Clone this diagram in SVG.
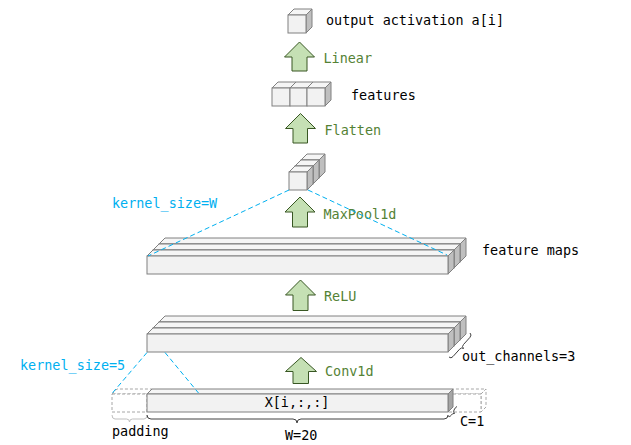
<svg xmlns="http://www.w3.org/2000/svg" width="631" height="445" viewBox="0 0 631 445">
<style>
text{font-family:"DejaVu Sans Mono","Liberation Mono",monospace;font-size:13.45px}
.lbl{fill:#000}
.op{fill:#548235}
.ks{fill:#00b0f0}
.f{fill:#f2f2f2;stroke:#808080;stroke-width:1}
.t{fill:#f5f5f5;stroke:#808080;stroke-width:1}
.s{fill:#bfbfbf;stroke:#808080;stroke-width:1}
.s2{fill:#a6a6a6;stroke:#808080;stroke-width:1}
.dsh{fill:#fff;stroke:#a6a6a6;stroke-width:1;stroke-dasharray:3 2}
.arr{fill:#c5e0b4;stroke:#385723;stroke-width:1}
.kl{fill:none;stroke:#00b0f0;stroke-width:1;stroke-dasharray:5 3}
.br{fill:none;stroke:#404040;stroke-width:1}
.brl{fill:none;stroke:#bfbfbf;stroke-width:1}
</style>

<g id="output-cube">
<polygon class="t" points="288,15 294,9 312,9 306,15"/>
<polygon class="s" points="306,15 312,9 312,27 306,33"/>
<rect class="f" x="288" y="15" width="18" height="18"/>
<text class="lbl" x="326" y="25">output activation a[i]</text>
</g>

<g id="features">
<polygon class="t" points="272,88 278,82 296,82 290,88"/>
<polygon class="s" points="290,88 296,82 296,100 290,106"/>
<rect class="f" x="272" y="88" width="18" height="18"/>
<polygon class="t" points="290,88 296,82 313,82 307,88"/>
<polygon class="s" points="307,88 313,82 313,100 307,106"/>
<rect class="f" x="290" y="88" width="17" height="18"/>
<polygon class="t" points="307,88 313,82 331,82 325,88"/>
<polygon class="s" points="325,88 331,82 331,100 325,106"/>
<rect class="f" x="307" y="88" width="18" height="18"/>
<text class="lbl" x="351" y="100">features</text>
</g>

<g id="pooled">
<polygon class="t" points="301,160 307,154 325,154 319,160"/>
<polygon class="s" points="319,160 325,154 325,172 319,178"/>
<rect class="f" x="301" y="160" width="18" height="18"/>
<polygon class="t" points="295,166 301,160 319,160 313,166"/>
<polygon class="s" points="313,166 319,160 319,178 313,184"/>
<rect class="f" x="295" y="166" width="18" height="18"/>
<polygon class="t" points="289,172 295,166 313,166 307,172"/>
<polygon class="s" points="307,172 313,166 313,184 307,190"/>
<rect class="f" x="289" y="172" width="18" height="18"/>
</g>

<g id="feature-maps">
<polygon class="t" points="159,244 165,238 466,238 460,244"/>
<polygon class="s" points="460,244 466,238 466,256 460,262"/>
<rect class="f" x="159" y="244" width="301" height="18"/>
<polygon class="t" points="153,250 159,244 460,244 454,250"/>
<polygon class="s" points="454,250 460,244 460,262 454,268"/>
<rect class="f" x="153" y="250" width="301" height="18"/>
<polygon class="t" points="147,256 153,250 454,250 448,256"/>
<polygon class="s" points="448,256 454,250 454,268 448,274"/>
<rect class="f" x="147" y="256" width="301" height="18"/>
<text class="lbl" x="482" y="255">feature maps</text>
</g>

<g id="conv-out">
<polygon class="t" points="159,322 165,316 466,316 460,322"/>
<polygon class="s" points="460,322 466,316 466,334 460,340"/>
<rect class="f" x="159" y="322" width="301" height="18"/>
<polygon class="t" points="153,328 159,322 460,322 454,328"/>
<polygon class="s" points="454,328 460,322 460,340 454,346"/>
<rect class="f" x="153" y="328" width="301" height="18"/>
<polygon class="t" points="147,334 153,328 454,328 448,334"/>
<polygon class="s" points="448,334 454,328 454,346 448,352"/>
<rect class="f" x="147" y="334" width="301" height="18"/>
<path class="br" d="M449,357 Q451,359 453,356.5 L459.5,349.3 Q461.5,347 463.5,348.5 Q461.5,346.5 463.5,344.5 L470,337.3 Q472,335 470,333"/>
<text class="lbl" x="462" y="361">out_channels=3</text>
</g>

<g id="padding">
<polygon class="dsh" points="112,394 117,389 152,389 147,394"/>
<rect class="dsh" x="112" y="394" width="35" height="18"/>
<polygon class="dsh" points="448,394 453,389 486,389 481,394"/>
<polygon class="dsh" points="481,394 486,389 486,407 481,412"/>
<rect class="dsh" x="448" y="394" width="33" height="18"/>
<path class="brl" d="M112,415 Q112,419 115,419 L126.5,419 Q129.5,419 129.5,422 Q129.5,419 132.5,419 L144,419 Q147,419 147,415"/>
<text class="lbl" x="112" y="436">padding</text>
</g>

<g id="input">
<polygon class="t" points="147,394 152,389 453,389 448,394"/>
<polygon class="s2" points="448,394 453,389 453,407 448,412"/>
<rect class="f" x="147" y="394" width="301" height="18"/>
<text class="lbl" x="297" y="406.5" text-anchor="middle">X[i,:,:]</text>
<path class="br" d="M147,415 Q147,419 151,419 L293,419 Q297,419 297,423 Q297,419 301,419 L444,419 Q448,419 448,415"/>
<text class="lbl" x="285" y="440">W=20</text>
<path class="br" d="M448,416 Q450,417.5 451.5,415 Q452.5,413 454.5,413.5 Q453,412 454,410 Q455.5,407 457,406.5"/>
<text class="lbl" x="460" y="426">C=1</text>
</g>

<g id="connectors">
<path class="arr" d="M299.5,42 L314.5,57 L307,57 L307,71 L292,71 L292,57 L284.5,57 Z"/>
<text class="op" x="323.5" y="63">Linear</text>
<path class="arr" d="M300.5,113.5 L315.5,128.5 L307.5,128.5 L307.5,143 L293,143 L293,128.5 L285.5,128.5 Z"/>
<text class="op" x="324.5" y="134.5">Flatten</text>
<path class="arr" d="M300,197 L315,212 L307.5,212 L307.5,227 L292.5,227 L292.5,212 L285,212 Z"/>
<text class="op" x="323.5" y="218.5">MaxPool1d</text>
<path class="arr" d="M300.5,280 L315.5,295 L308,295 L308,310.5 L293,310.5 L293,295 L285.5,295 Z"/>
<text class="op" x="324" y="301">ReLU</text>
<path class="arr" d="M301,357.5 L316.5,371.5 L308.5,371.5 L308.5,383.5 L293,383.5 L293,371.5 L285.5,371.5 Z"/>
<text class="op" x="325" y="376">Conv1d</text>
<line class="kl" x1="289" y1="190" x2="148" y2="256"/>
<line class="kl" x1="308" y1="190" x2="447" y2="255"/>
<text class="ks" x="112" y="208">kernel_size=W</text>
<line class="kl" x1="147" y1="352.5" x2="112" y2="393.5"/>
<line class="kl" x1="165" y1="352.5" x2="198.5" y2="393"/>
<text class="ks" x="20" y="370">kernel_size=5</text>
</g>
</svg>
